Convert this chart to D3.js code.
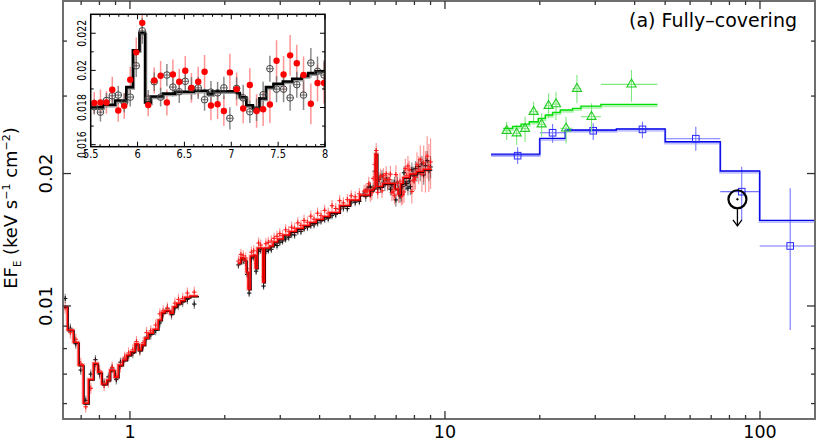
<!DOCTYPE html>
<html>
<head>
<meta charset="utf-8">
<style>
body { margin: 0; background: #fff; }
svg { display: block; font-family: "DejaVu Sans", sans-serif; }
</style>
</head>
<body>
<script src="https://cdn.jsdelivr.net/npm/d3@7/dist/d3.min.js"></script>
<script>
// ---------------- data ----------------
// soft band: model bin edges (keV), model flux per bin, data at bin centres
var softEdges = [0.613, 0.633, 0.661, 0.686, 0.711, 0.738, 0.765, 0.790, 0.813, 0.844, 0.864, 0.892, 0.918, 0.948, 0.976, 1.005, 1.037, 1.062, 1.089, 1.116, 1.143, 1.185, 1.229, 1.260, 1.291, 1.339, 1.372, 1.406, 1.447, 1.494, 1.550, 1.646];
var softModel = [0.00996, 0.00882, 0.00827, 0.00734, 0.00601, 0.00681, 0.00741, 0.00707, 0.00665, 0.00679, 0.00715, 0.00689, 0.00734, 0.00754, 0.00774, 0.00787, 0.00820, 0.00794, 0.00816, 0.00845, 0.00867, 0.00885, 0.00929, 0.00966, 0.00976, 0.00963, 0.00996, 0.01014, 0.01028, 0.01047, 0.01054];
var softE = [0.623, 0.647, 0.673, 0.698, 0.724, 0.751, 0.777, 0.801, 0.828, 0.854, 0.878, 0.905, 0.933, 0.962, 0.990, 1.021, 1.049, 1.075, 1.102, 1.129, 1.164, 1.207, 1.244, 1.275, 1.315, 1.355, 1.389, 1.426, 1.470, 1.522, 1.600];
var softBlack = [0.01040, 0.00890, 0.00820, 0.00715, 0.00610, 0.00700, 0.00755, 0.00700, 0.00668, 0.00690, 0.00722, 0.00680, 0.00745, 0.00760, 0.00770, 0.00780, 0.00812, 0.00790, 0.00812, 0.00850, 0.00860, 0.00880, 0.00915, 0.00960, 0.00985, 0.00955, 0.00990, 0.01005, 0.01020, 0.01035, 0.01010];
var softRed = [0.00990, 0.00870, 0.00840, 0.00740, 0.00590, 0.00650, 0.00735, 0.00712, 0.00660, 0.00672, 0.00725, 0.00695, 0.00728, 0.00765, 0.00782, 0.00795, 0.00830, 0.00800, 0.00825, 0.00870, 0.00878, 0.00905, 0.00960, 0.00975, 0.00990, 0.00970, 0.01015, 0.01035, 0.01040, 0.01070, 0.01075];

// hard band model
var hardEdges = [2.199, 2.247, 2.298, 2.340, 2.371, 2.410, 2.463, 2.499, 2.536, 2.640, 2.675, 2.778, 2.850, 2.945, 3.066, 3.215, 3.372, 3.548, 3.720, 3.901, 4.105, 4.304, 4.630, 4.982, 5.358, 5.764, 5.935, 6.000, 6.088, 6.339, 6.918, 7.097, 7.228, 7.360, 7.718, 8.124, 8.518, 9.063];
var hardModel = [0.01252, 0.01286, 0.01272, 0.01195, 0.01093, 0.01299, 0.01306, 0.01220, 0.01355, 0.01134, 0.01355, 0.01369, 0.01398, 0.01420, 0.01450, 0.01477, 0.01500, 0.01524, 0.01548, 0.01573, 0.01597, 0.01631, 0.01692, 0.01741, 0.01787, 0.01835, 0.01854, 0.02215, 0.01869, 0.01898, 0.01845, 0.01797, 0.01898, 0.01959, 0.01995, 0.02021, 0.02045];

// hard band data 2.2-5.4 keV
var hardE = [2.21, 2.25, 2.29, 2.33, 2.355, 2.39, 2.43, 2.47, 2.515, 2.56, 2.60, 2.655, 2.70, 2.75, 2.81, 2.87, 2.93, 2.99, 3.05, 3.12, 3.19, 3.26, 3.33, 3.41, 3.49, 3.57, 3.66, 3.75, 3.84, 3.94, 4.04, 4.15, 4.26, 4.38, 4.50, 4.63, 4.76, 4.90, 5.04, 5.19, 5.35];
var hardBlack = [0.01240, 0.01272, 0.01270, 0.01252, 0.01180, 0.01070, 0.01280, 0.01290, 0.01200, 0.01330, 0.01340, 0.01110, 0.01330, 0.01340, 0.01345, 0.01380, 0.01372, 0.01395, 0.01405, 0.01420, 0.01432, 0.01455, 0.01450, 0.01480, 0.01478, 0.01500, 0.01510, 0.01525, 0.01530, 0.01545, 0.01560, 0.01575, 0.01580, 0.01605, 0.01615, 0.01660, 0.01670, 0.01665, 0.01715, 0.01720, 0.01728];
var hardRed = [0.01265, 0.01310, 0.01300, 0.01285, 0.01215, 0.01110, 0.01325, 0.01335, 0.01250, 0.01390, 0.01375, 0.01165, 0.01385, 0.01395, 0.01405, 0.01425, 0.01440, 0.01460, 0.01445, 0.01490, 0.01475, 0.01510, 0.01500, 0.01545, 0.01525, 0.01565, 0.01550, 0.01600, 0.01575, 0.01625, 0.01605, 0.01650, 0.01625, 0.01690, 0.01665, 0.01735, 0.01715, 0.01745, 0.01780, 0.01770, 0.01800];

// iron band 5.5-8 keV (shown in the inset and in the main panel)
var ironE = [5.538, 5.604, 5.668, 5.730, 5.794, 5.858, 5.922, 5.986, 6.050, 6.114, 6.178, 6.246, 6.313, 6.377, 6.445, 6.509, 6.575, 6.647, 6.715, 6.783, 6.854, 6.921, 6.985, 7.057, 7.127, 7.198, 7.270, 7.340, 7.412, 7.483, 7.558, 7.628, 7.699, 7.771, 7.849, 7.920, 7.990];
var ironBlack = [0.01804, 0.01775, 0.01838, 0.01863, 0.01867, 0.01825, 0.01856, 0.02025, 0.02213, 0.01845, 0.01939, 0.01856, 0.01975, 0.01910, 0.01885, 0.01941, 0.01903, 0.01906, 0.01842, 0.01883, 0.01879, 0.01906, 0.01742, 0.01903, 0.01852, 0.01777, 0.01788, 0.01869, 0.02009, 0.01899, 0.01899, 0.01852, 0.01923, 0.01867, 0.02040, 0.01995, 0.01975];
var ironBlackErr = [0.0004, 0.0005, 0.0004, 0.0005, 0.0005, 0.0005, 0.0005, 0.0006, 0.0007, 0.0005, 0.0005, 0.0005, 0.0006, 0.0005, 0.0006, 0.0006, 0.0006, 0.0006, 0.0006, 0.0006, 0.0006, 0.0006, 0.0006, 0.0006, 0.0007, 0.0006, 0.0006, 0.0007, 0.0007, 0.0007, 0.0007, 0.0007, 0.0007, 0.0008, 0.0008, 0.0008, 0.0008];
var ironRed = [0.01824, 0.01827, 0.01827, 0.01896, 0.01784, 0.01809, 0.01950, 0.02097, 0.02256, 0.01813, 0.01946, 0.01971, 0.01827, 0.01978, 0.01939, 0.01998, 0.01906, 0.01939, 0.01993, 0.01811, 0.01818, 0.01781, 0.01989, 0.01899, 0.01795, 0.01921, 0.01781, 0.01791, 0.01816, 0.02052, 0.01978, 0.02081, 0.02038, 0.01975, 0.01820, 0.01932, 0.01932];
var ironRedErr = [0.0006, 0.0007, 0.0006, 0.0007, 0.0006, 0.0007, 0.0007, 0.0008, 0.0009, 0.0006, 0.0007, 0.0008, 0.0007, 0.0008, 0.0007, 0.0008, 0.0008, 0.0008, 0.0009, 0.0008, 0.0008, 0.0008, 0.0010, 0.0009, 0.0008, 0.0009, 0.0009, 0.0009, 0.0010, 0.0011, 0.0010, 0.0011, 0.0010, 0.0010, 0.0011, 0.0010, 0.0011];

// 8-9 keV tail
var tailE = [8.06, 8.15, 8.25, 8.35, 8.45, 8.56, 8.67, 8.78, 8.89, 9.00];
var tailBlack = [0.02055, 0.01995, 0.02075, 0.02010, 0.02105, 0.01985, 0.02085, 0.02140, 0.02030, 0.02070];
var tailBlackErr = [0.0008, 0.0008, 0.0009, 0.0009, 0.0009, 0.0010, 0.0010, 0.0011, 0.0011, 0.0012];
var tailRed = [0.01960, 0.02095, 0.02040, 0.02150, 0.01995, 0.02115, 0.02030, 0.02190, 0.02075, 0.02125];
var tailRedErr = [0.0012, 0.0014, 0.0015, 0.0017, 0.0018, 0.0020, 0.0022, 0.0024, 0.0026, 0.0028];

// inset model
var insetEdges = [5.50, 5.63, 5.76, 5.88, 5.95, 6.02, 6.08, 6.14, 6.27, 6.40, 6.60, 6.75, 6.80, 7.06, 7.09, 7.16, 7.23, 7.30, 7.37, 7.45, 7.55, 7.65, 7.75, 7.82, 7.90, 8.00];
var insetModel = [0.01802, 0.01815, 0.01838, 0.01910, 0.02108, 0.02202, 0.01827, 0.01859, 0.01875, 0.01885, 0.01890, 0.01872, 0.01888, 0.01878, 0.01855, 0.01812, 0.01795, 0.01849, 0.01910, 0.01928, 0.01940, 0.01955, 0.01970, 0.01985, 0.01995];

// PIN (green triangles)
var pinE = [15.70, 16.89, 17.96, 19.12, 20.27, 21.33, 22.51, 24.23, 26.24, 29.19, 39.09];
var pinElo = [15.32, 16.40, 17.44, 18.53, 19.79, 20.83, 21.96, 23.23, 25.42, 27.02, 31.26];
var pinEhi = [16.21, 17.44, 18.53, 19.79, 20.83, 21.96, 23.23, 25.42, 27.02, 31.26, 47.27];
var pinF = [0.02502, 0.02469, 0.02529, 0.02764, 0.02588, 0.02852, 0.02877, 0.02534, 0.03118, 0.02693, 0.03190];
var pinFlo = [0.02384, 0.02322, 0.02362, 0.02602, 0.02425, 0.02670, 0.02647, 0.02342, 0.02888, 0.02489, 0.02912];
var pinFhi = [0.02623, 0.02579, 0.02693, 0.02912, 0.02742, 0.03044, 0.03069, 0.02693, 0.03350, 0.02888, 0.03439];
var pinEdges = [15.32, 16.40, 17.44, 18.53, 19.79, 20.83, 21.96, 23.23, 25.42, 27.02, 31.26, 47.27];
var pinModel = [0.02534, 0.02560, 0.02590, 0.02623, 0.02670, 0.02717, 0.02755, 0.02789, 0.02813, 0.02847, 0.02872];

// GSO (blue squares)
var gsoE = [17.01, 21.96, 29.55, 42.36, 62.55, 87.50, 124.7];
var gsoElo = [14.0, 20.0, 24.1, 35.0, 50.0, 74.8, 99.8];
var gsoEhi = [20.0, 24.1, 35.0, 50.0, 74.8, 99.8, 150.5];
var gsoF = [0.02196, 0.02476, 0.02502, 0.02520, 0.02400, 0.01819, 0.01369];
var gsoFlo = [0.02102, 0.02350, 0.02384, 0.02405, 0.02254, 0.01568, 0.00882];
var gsoFhi = [0.02295, 0.02592, 0.02602, 0.02623, 0.02556, 0.02073, 0.01851];
var gsoEdges = [14.0, 20.0, 24.1, 35.0, 50.0, 74.8, 99.8, 150.5];
var gsoModel = [0.02215, 0.02405, 0.02512, 0.02526, 0.02362, 0.02027, 0.01566];

// upper limit (circle + arrow)
var limitE = 84.8, limitF = 0.01748, limitTo = 0.0152;

// ticks
var xMajor = [1, 10, 100];
var xMajorLabels = ["1", "10", "100"];
var xMinor = [0.7, 0.8, 0.9, 2, 3, 4, 5, 6, 7, 8, 9, 20, 30, 40, 50, 60, 70, 80, 90];
var yMajor = [0.01, 0.02];
var yMajorLabels = ["0.01", "0.02"];
var yMinor = [0.006, 0.007, 0.008, 0.009, 0.03, 0.04];
var insetXMajor = [5.5, 6, 6.5, 7, 7.5, 8];
var insetXLabels = ["5.5", "6", "6.5", "7", "7.5", "8"];
var insetYMajor = [0.016, 0.018, 0.02, 0.022];
var insetYLabels = ["0.016", "0.018", "0.02", "0.022"];
var insetYMinor = [0.017, 0.019, 0.021];

// ---------------- drawing ----------------
var width = 817, height = 442;
var L = 63, R = 815, T = 1, B = 419;

var svg = d3.select("body").append("svg")
    .attr("width", width)
    .attr("height", height);

var x = d3.scaleLog().domain([0.613, 149.5]).range([L, R]);
var y = d3.scaleLog().domain([0.005535, 0.04934]).range([B, T]);

function stepPath(sx, sy, edges, levels) {
  var pts = edges.map(function(e, i) { return [e, levels[Math.min(i, levels.length - 1)]]; });
  return d3.line()
      .x(function(d) { return sx(d[0]); })
      .y(function(d) { return sy(d[1]); })
      .curve(d3.curveStepAfter)(pts);
}

function zipPts(E, F, err) {
  return E.map(function(e, i) { return {e: e, f: F[i], d: err[i]}; });
}

svg.append("defs").append("clipPath").attr("id", "mainclip")
  .append("rect").attr("x", L).attr("y", T).attr("width", R - L).attr("height", B - T);

var plot = svg.append("g").attr("clip-path", "url(#mainclip)");

// collect spectra for the main panel
var blackPts = zipPts(softE, softBlack, softBlack.map(function(f) { return f * 0.025; }))
  .concat(zipPts(hardE, hardBlack, hardBlack.map(function(f) { return f * 0.02; })))
  .concat(zipPts(ironE, ironBlack, ironBlackErr))
  .concat(zipPts(tailE, tailBlack, tailBlackErr));
var redPts = zipPts(softE, softRed, softRed.map(function(f) { return f * 0.03; }))
  .concat(zipPts(hardE, hardRed, hardRed.map(function(f) { return f * 0.03; })))
  .concat(zipPts(ironE, ironRed, ironRedErr))
  .concat(zipPts(tailE, tailRed, tailRedErr));

function errBars(g, pts, color, op, hw, mark) {
  g.selectAll(null).data(pts).join("line")
    .attr("x1", function(d) { return x(d.e); })
    .attr("x2", function(d) { return x(d.e); })
    .attr("y1", function(d) { return y(d.f - d.d); })
    .attr("y2", function(d) { return y(d.f + d.d); })
    .attr("stroke", color).attr("stroke-opacity", op).attr("stroke-width", 1.2);
  g.selectAll(null).data(pts).join("line")
    .attr("x1", function(d) { return x(d.e) - hw; })
    .attr("x2", function(d) { return x(d.e) + hw; })
    .attr("y1", function(d) { return y(d.f); })
    .attr("y2", function(d) { return y(d.f); })
    .attr("stroke", mark).attr("stroke-width", 1.1);
  g.selectAll(null).data(pts).join("line")
    .attr("x1", function(d) { return x(d.e); })
    .attr("x2", function(d) { return x(d.e); })
    .attr("y1", function(d) { return y(d.f) - 2.5; })
    .attr("y2", function(d) { return y(d.f) + 2.5; })
    .attr("stroke", mark).attr("stroke-width", 1.1);
}

errBars(plot.append("g"), blackPts, "#000", 0.45, 2.2, "#111");
errBars(plot.append("g"), redPts, "#ff0000", 0.4, 2.2, "#ff1a1a");

// XIS models: pink halo, black model, red model
[[softEdges, softModel], [hardEdges, hardModel]].forEach(function(m) {
  plot.append("path").attr("d", stepPath(x, y, m[0], m[1]))
    .attr("fill", "none").attr("stroke", "#ff8080").attr("stroke-opacity", 0.5).attr("stroke-width", 3.6);
  plot.append("path").attr("d", stepPath(x, y, m[0], m[1]))
    .attr("transform", "translate(0.8,0.8)")
    .attr("fill", "none").attr("stroke", "#000").attr("stroke-width", 1.3);
  plot.append("path").attr("d", stepPath(x, y, m[0], m[1]))
    .attr("fill", "none").attr("stroke", "#ff0000").attr("stroke-width", 1.6);
});

// hard X-ray data
function hxBars(g, E, Elo, Ehi, F, Flo, Fhi, color) {
  var pts = E.map(function(e, i) { return {e: e, lo: Elo[i], hi: Ehi[i], f: F[i], flo: Flo[i], fhi: Fhi[i]}; });
  g.selectAll(null).data(pts).join("line")
    .attr("x1", function(d) { return x(d.lo); })
    .attr("x2", function(d) { return x(d.hi); })
    .attr("y1", function(d) { return y(d.f); })
    .attr("y2", function(d) { return y(d.f); })
    .attr("stroke", color).attr("stroke-width", 1.1);
  g.selectAll(null).data(pts).join("line")
    .attr("x1", function(d) { return x(d.e); })
    .attr("x2", function(d) { return x(d.e); })
    .attr("y1", function(d) { return y(d.flo); })
    .attr("y2", function(d) { return y(d.fhi); })
    .attr("stroke", color).attr("stroke-width", 1.1);
  return pts;
}

var gsoG = plot.append("g");
gsoG.append("path").attr("d", stepPath(x, y, gsoEdges, gsoModel))
  .attr("fill", "none").attr("stroke", "#9090ff").attr("stroke-opacity", 0.55).attr("stroke-width", 2.5)
  .attr("transform", "translate(0,1.5)");
var gsoPts = hxBars(gsoG, gsoE, gsoElo, gsoEhi, gsoF, gsoFlo, gsoFhi, "#7575ff");
gsoG.append("path").attr("d", stepPath(x, y, gsoEdges, gsoModel))
  .attr("fill", "none").attr("stroke", "#0000e6").attr("stroke-width", 1.3);
gsoG.selectAll("rect").data(gsoPts).join("rect")
  .attr("x", function(d) { return x(d.e) - 3.3; })
  .attr("y", function(d) { return y(d.f) - 3.3; })
  .attr("width", 6.6).attr("height", 6.6)
  .attr("fill", "none").attr("stroke", "#2a2aff").attr("stroke-width", 1);

var pinG = plot.append("g");
pinG.append("path").attr("d", stepPath(x, y, pinEdges, pinModel))
  .attr("fill", "none").attr("stroke", "#90f090").attr("stroke-opacity", 0.7).attr("stroke-width", 2.5)
  .attr("transform", "translate(0,1.5)");
var pinPts = hxBars(pinG, pinE, pinElo, pinEhi, pinF, pinFlo, pinFhi, "#80e880");
pinG.append("path").attr("d", stepPath(x, y, pinEdges, pinModel))
  .attr("fill", "none").attr("stroke", "#00dd00").attr("stroke-width", 1.3);
pinG.selectAll("path.tri").data(pinPts).join("path")
  .attr("class", "tri")
  .attr("d", d3.symbol().type(d3.symbolTriangle).size(36))
  .attr("transform", function(d) { return "translate(" + x(d.e) + "," + y(d.f) + ")"; })
  .attr("fill", "none").attr("stroke", "#22cc22").attr("stroke-width", 1.1);

// upper limit marker
var ux = x(limitE), uy = y(limitF), uto = y(limitTo);
var ul = plot.append("g").attr("stroke", "#000").attr("fill", "none");
ul.append("circle").attr("cx", ux).attr("cy", uy).attr("r", 9).attr("stroke-width", 2.2);
ul.append("circle").attr("cx", ux).attr("cy", uy).attr("r", 0.8).attr("fill", "#000");
ul.append("line").attr("x1", ux).attr("x2", ux).attr("y1", uy + 9).attr("y2", uto).attr("stroke-width", 1.3);
ul.append("path").attr("d", "M" + (ux - 4.5) + "," + (uto - 6) + "L" + ux + "," + uto + "L" + (ux + 4.5) + "," + (uto - 6))
  .attr("stroke-width", 1.3);

// frame and ticks
svg.append("rect").attr("x", L).attr("y", T).attr("width", R - L).attr("height", B - T)
  .attr("fill", "none").attr("stroke", "#6e6e6e").attr("stroke-width", 2);

var xt = xMajor.map(function(v) { return {v: v, len: 8}; })
  .concat(xMinor.map(function(v) { return {v: v, len: 4}; }));
var yt = yMajor.map(function(v) { return {v: v, len: 8}; })
  .concat(yMinor.map(function(v) { return {v: v, len: 4}; }));
var tg = svg.append("g").attr("stroke", "#333").attr("stroke-width", 1.3);
tg.selectAll(null).data(xt).join("line")
  .attr("x1", function(d) { return x(d.v); }).attr("x2", function(d) { return x(d.v); })
  .attr("y1", B).attr("y2", function(d) { return B - d.len; });
tg.selectAll(null).data(xt).join("line")
  .attr("x1", function(d) { return x(d.v); }).attr("x2", function(d) { return x(d.v); })
  .attr("y1", T).attr("y2", function(d) { return T + d.len; });
tg.selectAll(null).data(yt).join("line")
  .attr("y1", function(d) { return y(d.v); }).attr("y2", function(d) { return y(d.v); })
  .attr("x1", L).attr("x2", function(d) { return L + d.len; });
tg.selectAll(null).data(yt).join("line")
  .attr("y1", function(d) { return y(d.v); }).attr("y2", function(d) { return y(d.v); })
  .attr("x1", R).attr("x2", function(d) { return R - d.len; });

svg.selectAll("text.xl").data(xMajor).join("text")
  .attr("class", "xl")
  .attr("x", function(d) { return x(d); }).attr("y", 438)
  .attr("text-anchor", "middle").attr("font-size", 17.5)
  .text(function(d, i) { return xMajorLabels[i]; });

svg.selectAll("text.yl").data(yMajor).join("text")
  .attr("class", "yl")
  .attr("transform", function(d) { return "translate(52," + y(d) + ") rotate(-90)"; })
  .attr("text-anchor", "middle").attr("font-size", 18)
  .text(function(d, i) { return yMajorLabels[i]; });

var ylab = svg.append("text")
  .attr("transform", "translate(17,208) rotate(-90)")
  .attr("text-anchor", "middle").attr("font-size", 18);
ylab.append("tspan").text("EF");
ylab.append("tspan").attr("font-size", 10).attr("dy", 4).text("E");
ylab.append("tspan").attr("dy", -4).text(" (keV s");
ylab.append("tspan").attr("font-size", 11).attr("dy", -7).text("−1");
ylab.append("tspan").attr("dy", 7).text(" cm");
ylab.append("tspan").attr("font-size", 11).attr("dy", -7).text("−2");
ylab.append("tspan").attr("dy", 7).text(")");

svg.append("text").attr("x", 797).attr("y", 27)
  .attr("text-anchor", "end").attr("font-size", 19)
  .text("(a) Fully–covering");

// ---------------- inset ----------------
var iL = 90.7, iR = 325, iT = 14.3, iB = 146.7;
var ix = d3.scaleLinear().domain([5.5, 8]).range([iL, iR]);
var iy = d3.scaleLinear().domain([0.01589, 0.02302]).range([iB, iT]);

svg.append("rect").attr("x", iL).attr("y", iT).attr("width", iR - iL).attr("height", iB - iT).attr("fill", "#fff");
svg.select("defs").append("clipPath").attr("id", "insetclip")
  .append("rect").attr("x", iL).attr("y", iT).attr("width", iR - iL).attr("height", iB - iT);
var ig = svg.append("g").attr("clip-path", "url(#insetclip)");

var iBlack = zipPts(ironE, ironBlack, ironBlackErr);
var iRed = zipPts(ironE, ironRed, ironRedErr);

ig.selectAll(null).data(iRed).join("line")
  .attr("x1", function(d) { return ix(d.e); }).attr("x2", function(d) { return ix(d.e); })
  .attr("y1", function(d) { return iy(d.f - d.d); }).attr("y2", function(d) { return iy(d.f + d.d); })
  .attr("stroke", "#ff7070").attr("stroke-opacity", 0.75).attr("stroke-width", 1.5);
ig.selectAll(null).data(iBlack).join("line")
  .attr("x1", function(d) { return ix(d.e); }).attr("x2", function(d) { return ix(d.e); })
  .attr("y1", function(d) { return iy(d.f - d.d); }).attr("y2", function(d) { return iy(d.f + d.d); })
  .attr("stroke", "#666").attr("stroke-opacity", 0.75).attr("stroke-width", 1.5);

ig.append("path").attr("d", stepPath(ix, iy, insetEdges, insetModel))
  .attr("transform", "translate(1,1.5)")
  .attr("fill", "none").attr("stroke", "#9a9a9a").attr("stroke-width", 2.5);
ig.append("path").attr("d", stepPath(ix, iy, insetEdges, insetModel))
  .attr("fill", "none").attr("stroke", "#000").attr("stroke-width", 2.6);

ig.selectAll("circle.ob").data(iBlack).join("circle")
  .attr("class", "ob")
  .attr("cx", function(d) { return ix(d.e); }).attr("cy", function(d) { return iy(d.f); })
  .attr("r", 3.3).attr("fill", "none").attr("stroke", "#444").attr("stroke-width", 1);
ig.selectAll(null).data(iBlack).join("line")
  .attr("x1", function(d) { return ix(d.e) - 3.3; }).attr("x2", function(d) { return ix(d.e) + 3.3; })
  .attr("y1", function(d) { return iy(d.f); }).attr("y2", function(d) { return iy(d.f); })
  .attr("stroke", "#444").attr("stroke-width", 0.8);
ig.selectAll("circle.fr").data(iRed).join("circle")
  .attr("class", "fr")
  .attr("cx", function(d) { return ix(d.e); }).attr("cy", function(d) { return iy(d.f); })
  .attr("r", 3.2).attr("fill", "#ff0000");

svg.append("rect").attr("x", iL).attr("y", iT).attr("width", iR - iL).attr("height", iB - iT)
  .attr("fill", "none").attr("stroke", "#000").attr("stroke-width", 1.5);

var ixMinor = d3.range(5.6, 8.0, 0.1).filter(function(v) { return Math.abs(v * 2 - Math.round(v * 2)) > 0.01; });
var ixt = insetXMajor.map(function(v) { return {v: v, len: 5}; })
  .concat(ixMinor.map(function(v) { return {v: v, len: 2.5}; }));
var iyt = insetYMajor.map(function(v) { return {v: v, len: 5}; })
  .concat(insetYMinor.map(function(v) { return {v: v, len: 3}; }));
var itg = svg.append("g").attr("stroke", "#000").attr("stroke-width", 1);
itg.selectAll(null).data(ixt).join("line")
  .attr("x1", function(d) { return ix(d.v); }).attr("x2", function(d) { return ix(d.v); })
  .attr("y1", iB).attr("y2", function(d) { return iB - d.len; });
itg.selectAll(null).data(ixt).join("line")
  .attr("x1", function(d) { return ix(d.v); }).attr("x2", function(d) { return ix(d.v); })
  .attr("y1", iT).attr("y2", function(d) { return iT + d.len; });
itg.selectAll(null).data(iyt).join("line")
  .attr("y1", function(d) { return iy(d.v); }).attr("y2", function(d) { return iy(d.v); })
  .attr("x1", iL).attr("x2", function(d) { return iL + d.len; });
itg.selectAll(null).data(iyt).join("line")
  .attr("y1", function(d) { return iy(d.v); }).attr("y2", function(d) { return iy(d.v); })
  .attr("x1", iR).attr("x2", function(d) { return iR - d.len; });

// inset labels: slightly condensed, as in the reference
svg.selectAll("text.ixl").data(insetXMajor).join("text")
  .attr("class", "ixl")
  .attr("transform", function(d) { return "translate(" + ix(d) + ",158) scale(0.82,1)"; })
  .attr("text-anchor", "middle").attr("font-size", 12)
  .text(function(d, i) { return insetXLabels[i]; });
svg.selectAll("text.iyl").data(insetYMajor).join("text")
  .attr("class", "iyl")
  .attr("transform", function(d) { return "translate(86," + iy(d) + ") rotate(-90) scale(0.78,1)"; })
  .attr("text-anchor", "middle").attr("font-size", 12)
  .text(function(d, i) { return insetYLabels[i]; });
</script>
</body>
</html>
